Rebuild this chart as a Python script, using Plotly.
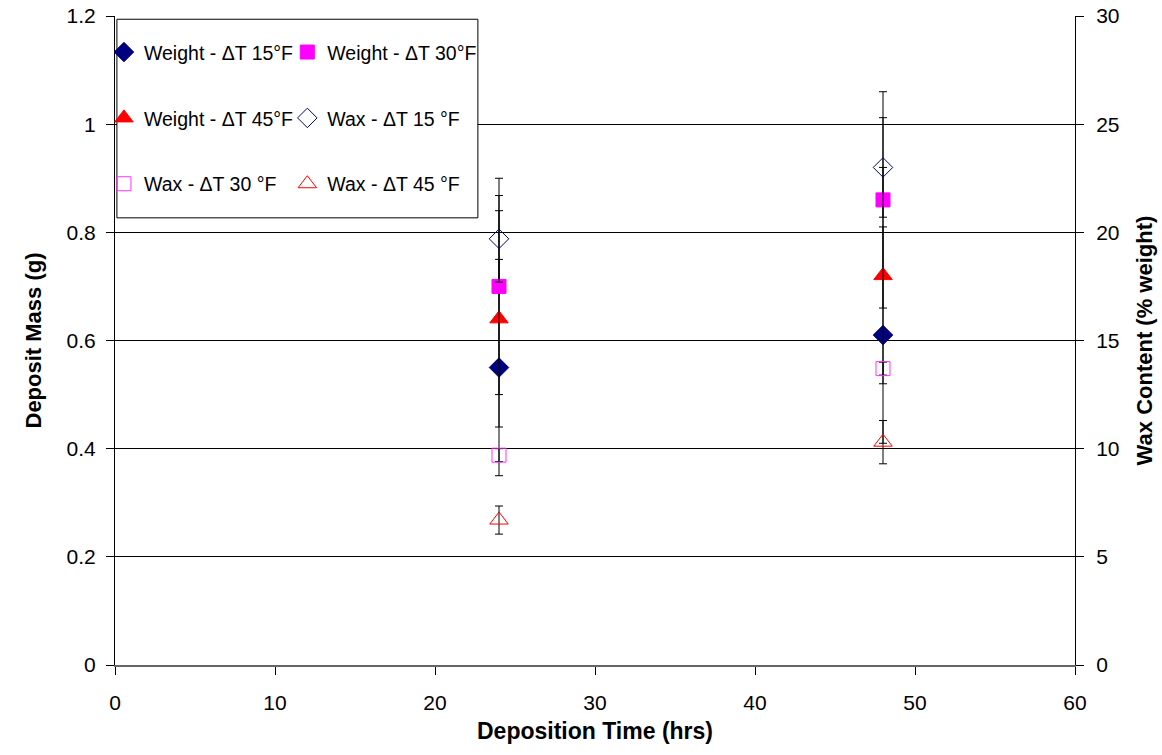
import plotly.graph_objects as go

# ---- data ----
time_hrs = [24, 48]

weight_15 = [0.55, 0.61]
weight_30 = [0.70, 0.86]
weight_45 = [0.64, 0.72]
weight_err = [0.20, 0.20]

wax_15 = [19.7, 23.0]
wax_15_err = [2.0, 2.3]
wax_30 = [9.7, 13.7]
wax_30_err = [0.3, 0.3]
wax_45 = [6.7, 10.3]
wax_45_err = [0.65, 1.0]

x_ticks = [0, 10, 20, 30, 40, 50, 60]
left_ticks = [0, 0.2, 0.4, 0.6, 0.8, 1.0, 1.2]
left_tick_text = ["0", "0.2", "0.4", "0.6", "0.8", "1", "1.2"]
right_ticks = [0, 5, 10, 15, 20, 25, 30]

FONT = "Arial, Liberation Sans, sans-serif"

def err(vals):
    return dict(type="data", array=vals, visible=True, color="#000000",
                thickness=1, width=4)

fig = go.Figure()

series = [
    # name, y, err, axis, symbol, color, legend
    ("Weight - \u0394T 15\u00b0F", weight_15, weight_err, "y", "diamond", "#000080", "legend"),
    ("Weight - \u0394T 45\u00b0F", weight_45, weight_err, "y", "triangle-up", "#FF0000", "legend"),
    ("Wax - \u0394T 30 \u00b0F", wax_30, wax_30_err, "y2", "square-open", "#FF33FF", "legend"),
    ("Weight - \u0394T 30\u00b0F", weight_30, weight_err, "y", "square", "#FF00FF", "legend2"),
    ("Wax - \u0394T 15 \u00b0F", wax_15, wax_15_err, "y2", "diamond-open", "#000080", "legend2"),
    ("Wax - \u0394T 45 \u00b0F", wax_45, wax_45_err, "y2", "triangle-up-open", "#FF0000", "legend2"),
]

sizes = {"diamond": 15, "triangle-up": 16, "square": 14,
         "diamond-open": 15, "triangle-up-open": 16, "square-open": 14}

for i, (name, yv, ev, ax, sym, col, leg) in enumerate(series):
    fig.add_trace(go.Scatter(
        x=time_hrs, y=yv, yaxis=ax, name=name, mode="markers",
        marker=dict(symbol=sym, color=col, size=sizes[sym],
                    line=dict(color=col, width=1)),
        error_y=err(ev), legend=leg, legendgroup=f"g{i}",
    ))

fig.add_shape(type="rect", xref="paper", yref="paper",
              x0=0.002, x1=0.378, y0=0.689, y1=0.995,
              line=dict(color="#000000", width=1), fillcolor="#FFFFFF",
              layer="above")

legend_common = dict(
    bgcolor="rgba(0,0,0,0)", borderwidth=0,
    font=dict(family=FONT, size=19.5, color="#000000"),
    tracegroupgap=37.5, itemwidth=30, yanchor="top", xanchor="left",
)

fig.update_layout(
    width=1162, height=755,
    margin=dict(l=115, r=87, t=16, b=90, autoexpand=False),
    paper_bgcolor="#FFFFFF", plot_bgcolor="#FFFFFF",
    font=dict(family=FONT, size=21, color="#000000"),
    showlegend=True,
    legend=dict(x=-0.0115, y=0.974, **legend_common),
    legend2=dict(x=0.1795, y=0.974, **legend_common),
    xaxis=dict(
        range=[0, 60], tickvals=x_ticks, ticks="outside", ticklen=8,
        tickcolor="#000000", showgrid=False, zeroline=False,
        showline=True, linecolor="#666666", linewidth=2,
        tickfont=dict(size=21), ticklabelstandoff=10, automargin=False,
        title=dict(text="<b>Deposition Time (hrs)</b>",
                   font=dict(size=23), standoff=10),
    ),
    yaxis=dict(
        range=[0, 1.2], tickvals=left_ticks, ticktext=left_tick_text,
        ticks="outside", ticklen=8, tickcolor="#000000",
        showgrid=True, gridcolor="#000000", gridwidth=1, zeroline=False,
        showline=True, linecolor="#000000", linewidth=1,
        tickfont=dict(size=21), ticklabelstandoff=6, automargin=False,
        title=dict(text="<b>Deposit Mass (g)</b>", font=dict(size=22), standoff=18),
    ),
    yaxis2=dict(
        range=[0, 30], tickvals=right_ticks, overlaying="y", side="right",
        ticks="outside", ticklen=8, tickcolor="#000000",
        showgrid=False, zeroline=False,
        showline=True, linecolor="#000000", linewidth=1,
        tickfont=dict(size=21), ticklabelstandoff=8, automargin=False,
        title=dict(text="<b>Wax Content (% weight)</b>", font=dict(size=22), standoff=18),
    ),
)

fig.write_html("out.html")
